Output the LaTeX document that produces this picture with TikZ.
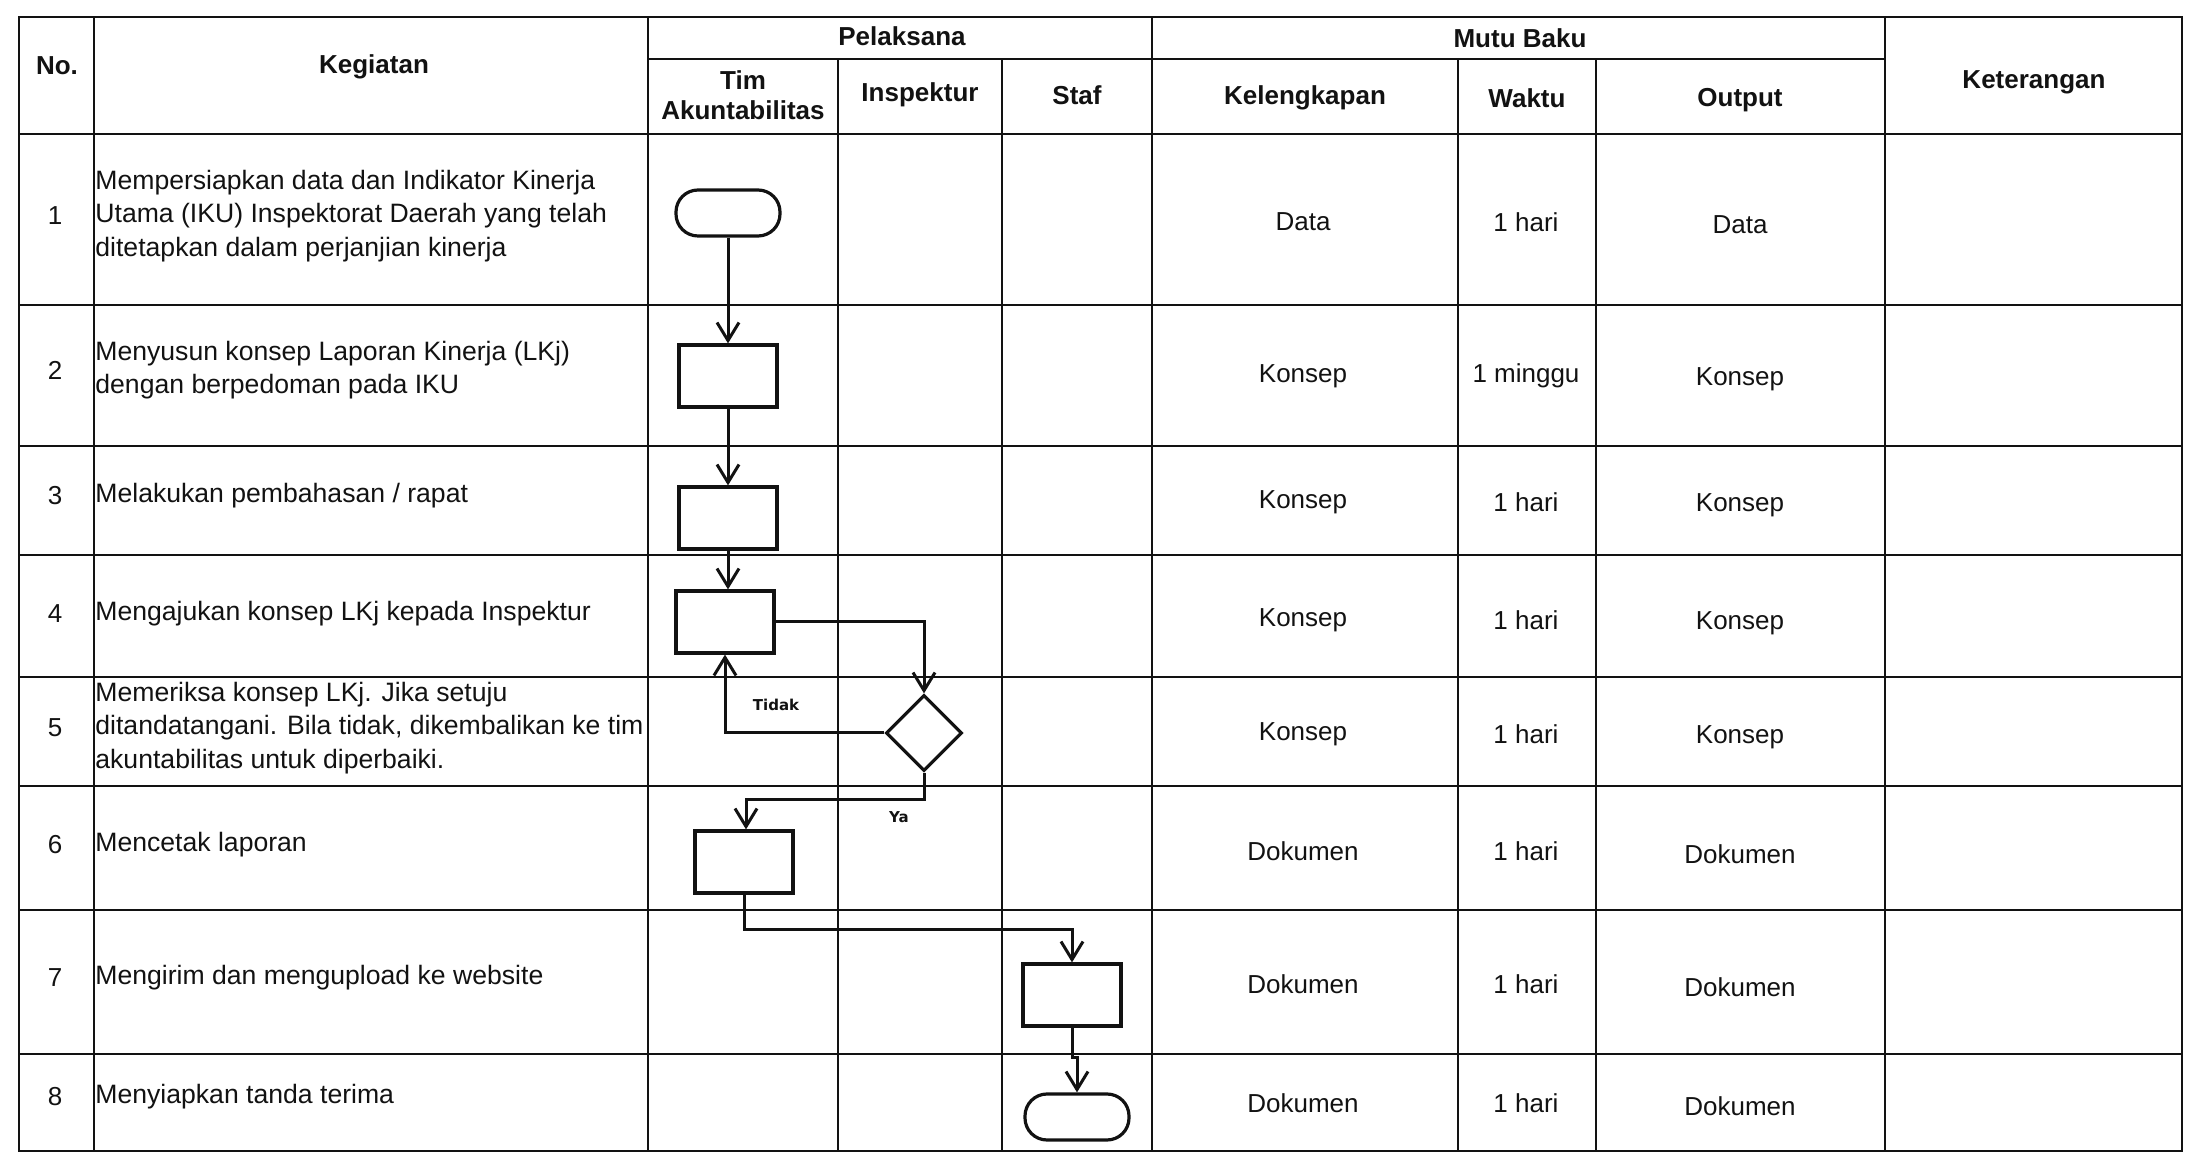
\documentclass[tikz,border=0pt]{standalone}
\usepackage{fontspec}
\setmainfont{Liberation Sans}
\newfontfamily\flowfont{DejaVu Sans}
\usepackage{tikz}
\usetikzlibrary{arrows.meta, positioning, shapes.geometric}
\definecolor{inkblack}{RGB}{18, 18, 18}

\begin{document}
\begin{tikzpicture}[x=0.5pt, y=-0.5pt,
    grid/.style={inkblack, line width=1.1pt},
    head/.style={font=\fontsize{13}{15}\selectfont\bfseries, align=center, text=inkblack},
    cell/.style={font=\fontsize{13}{16}\selectfont, align=center, text=inkblack},
    task/.style={font=\fontsize{13.3}{16.6}\selectfont, align=left, anchor=west, inner sep=0pt, text=inkblack},
    proc/.style={draw=inkblack, line width=1.6pt, minimum width=49pt, minimum height=31pt, inner sep=0pt},
    term/.style={draw=inkblack, line width=1.6pt, rounded corners=11pt, minimum width=52pt, minimum height=23pt, inner sep=0pt},
    decide/.style={draw=inkblack, line width=1.6pt, diamond, aspect=1, minimum width=38pt, minimum height=38pt, inner sep=0pt},
    flow/.style={inkblack, line width=1.5pt, -{Straight Barb[length=9pt, width=11pt, line width=1.5pt]}},
    tag/.style={font=\flowfont\bfseries\fontsize{7.5}{9}\selectfont, text=inkblack}]
    \useasboundingbox (0,0) rectangle (2186,1159);

    % table frame
    \draw[grid] (19,17) rectangle (2182,1151);
    \draw[grid] (648,59) -- (1885,59);
    \draw[grid] (19,134) -- (2182,134);
    \foreach \y in {305,446,555,677,786,910,1054}
        \draw[grid] (19,\y) -- (2182,\y);
    \foreach \x in {94,648,1152,1885}
        \draw[grid] (\x,17) -- (\x,1151);
    \foreach \x in {838,1002,1458,1596}
        \draw[grid] (\x,59) -- (\x,1151);

    % header
    \node[head] (hno) at (57,66) {No.};
    \node[head] (hkeg) at (374,67) {Kegiatan};
    \node[head] (hpel) at (902,36) {Pelaksana};
    \node[head] (htim) at (743,95) {Tim\\Akuntabilitas};
    \node[head] (hins) at (920,95) {Inspektur};
    \node[head] (hstaf) at (1077,95) {Staf};
    \node[head] (hmutu) at (1520,38) {Mutu Baku};
    \node[head] (hkel) at (1305,98) {Kelengkapan};
    \node[head] (hwak) at (1527,98) {Waktu};
    \node[head] (hout) at (1740,100) {Output};
    \node[head] (hket) at (2034,82) {Keterangan};

    % rows
    \foreach \n/\y/\keg/\kel/\wak/\out in {
        1/216/{Mempersiapkan data dan Indikator Kinerja\\Utama (IKU) Inspektorat Daerah yang telah\\ditetapkan dalam perjanjian kinerja}/Data/1 hari/Data,
        2/370/{Menyusun konsep Laporan Kinerja (LKj)\\dengan berpedoman pada IKU}/Konsep/1 minggu/Konsep,
        3/496/{Melakukan pembahasan / rapat}/Konsep/1 hari/Konsep,
        4/614/{Mengajukan konsep LKj kepada Inspektur}/Konsep/1 hari/Konsep,
        5/728/{Memeriksa konsep LKj. Jika setuju\\ditandatangani. Bila tidak, dikembalikan ke tim\\akuntabilitas untuk diperbaiki.}/Konsep/1 hari/Konsep,
        6/845/{Mencetak laporan}/Dokumen/1 hari/Dokumen,
        7/978/{Mengirim dan mengupload ke website}/Dokumen/1 hari/Dokumen,
        8/1097/{Menyiapkan tanda terima}/Dokumen/1 hari/Dokumen} {
        \node[cell] (no\n) at (55,\y) {\n};
        \node[task] (keg\n) at (95,\y) {\keg};
        \node[cell] (kel\n) at (1303,\y+6) {\kel};
        \node[cell] (wak\n) at (1526,\y+6) {\wak};
        \node[cell] (out\n) at (1740,\y+9) {\out};
    }

    % flowchart
    \node[term] (mulai) at (728,213) {};
    \node[proc] (susun) at (728,376) {};
    \node[proc] (bahas) at (728,518) {};
    \node[proc] (aju) at (725,622) {};
    \node[decide] (periksa) at (924,733) {};
    \node[proc] (cetak) at (744,862) {};
    \node[proc] (kirim) at (1072,995) {};
    \node[term] (selesai) at (1077,1117) {};

    \draw[flow] (mulai) -- (susun);
    \draw[flow] (susun) -- (bahas);
    \draw[flow] (bahas) -- (aju.north -| bahas);
    \draw[flow] (aju.east) -| (periksa.north);
    \draw[flow] (periksa.west) -| (aju.south);
    \draw[flow] (periksa.south) |- (746,800) -- (cetak.north -| 746,800);
    \draw[flow] (cetak.south) |- (1072,930) -- (kirim.north);
    \draw[flow] (kirim.south) -- ++(0,30) -| (selesai.north);

    \node[tag] (tidak) at (776,705) {Tidak};
    \node[tag] (ya) at (899,817) {Ya};
\end{tikzpicture}
\end{document}
